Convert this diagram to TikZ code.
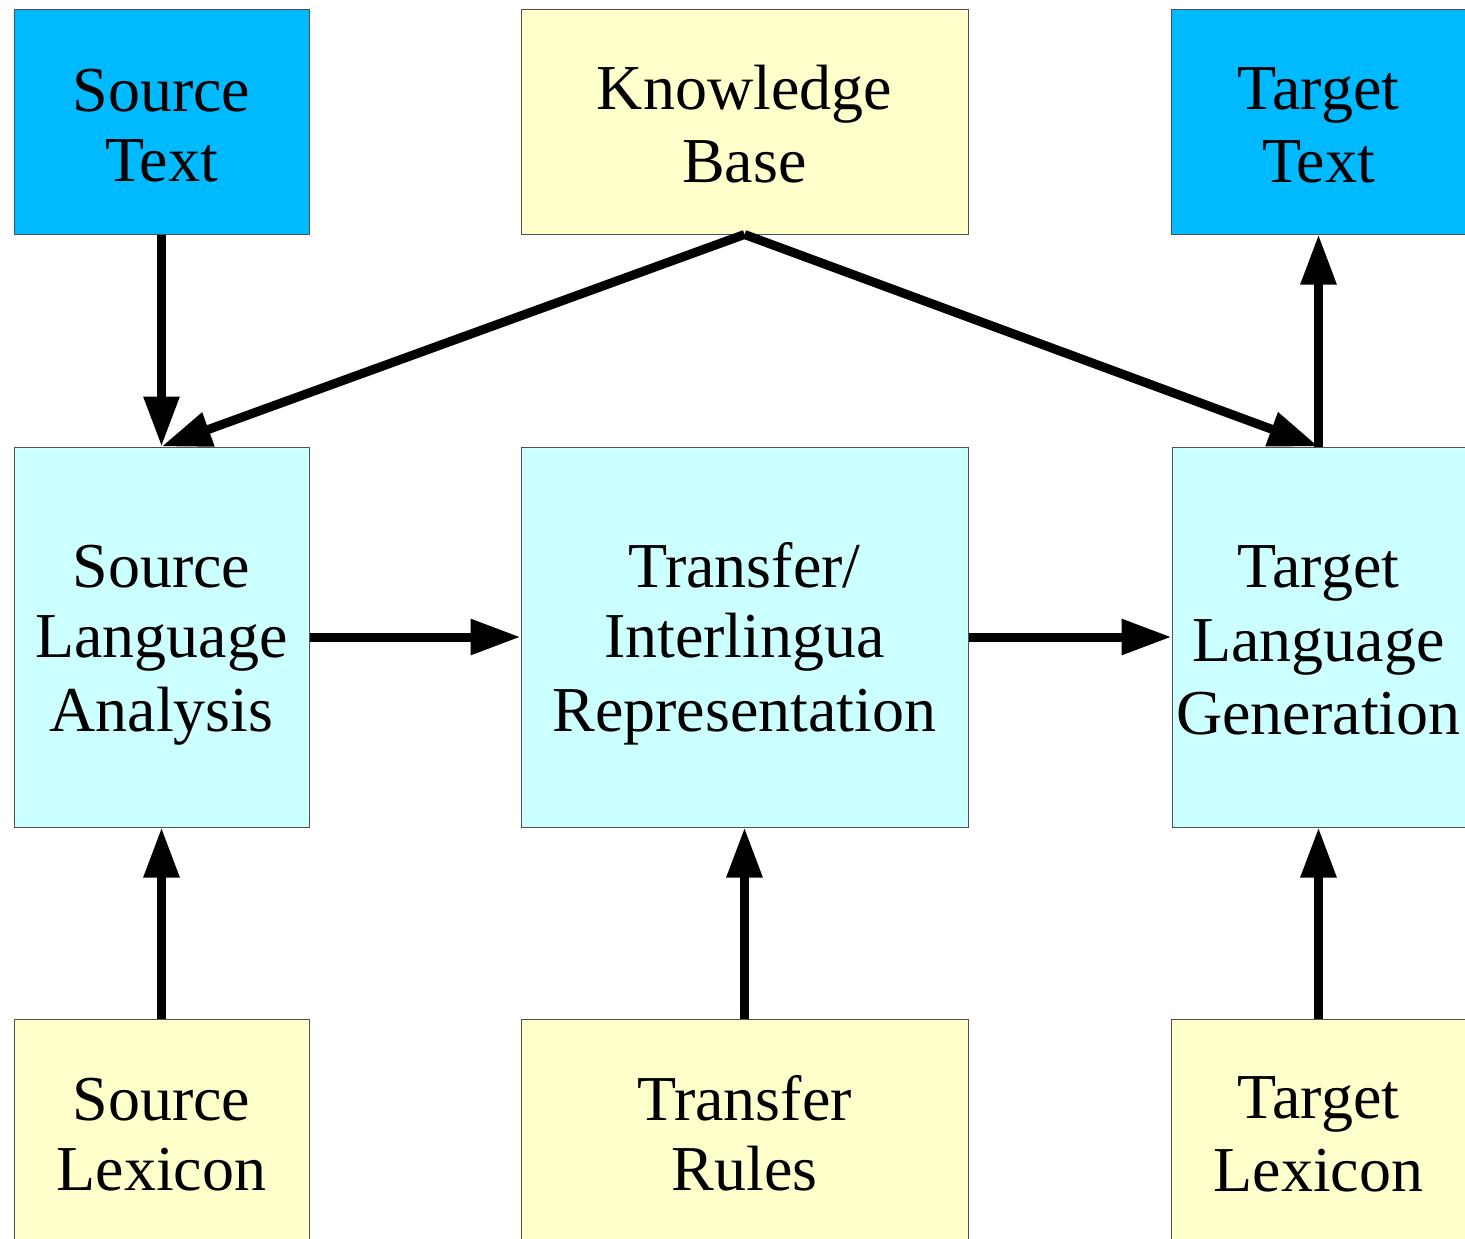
\documentclass[tikz,border=0pt]{standalone}
\usepackage{fontspec}
\setmainfont{Liberation Serif}
\usetikzlibrary{arrows.meta}
\definecolor{textblue}{RGB}{0,186,255}
\definecolor{stagecyan}{RGB}{204,255,255}
\definecolor{resyellow}{RGB}{255,255,204}
\definecolor{edgegray}{RGB}{80,80,80}
% fixed line strut so every label sits the same way in its box
\newcommand{\ls}{\vrule height 59pt depth 11pt width 0pt}
\tikzset{
  box/.style={draw=edgegray, line width=1pt, rectangle, inner sep=0pt,
    align=center, font=\fontsize{64}{70}\selectfont},
  smallbox/.style={box, minimum width=295pt, minimum height=224pt},
  widebox/.style={box, minimum width=447pt, minimum height=224pt},
  stagebox/.style={box, fill=stagecyan, minimum height=380pt},
  flow/.style={line width=9pt, -{Triangle[length=50pt,width=34pt]}}
}
\begin{document}
\begin{tikzpicture}[x=1pt,y=-1pt]
\clip (0,0) rectangle (1465,1239);
\fill[white] (0,0) rectangle (1465,1239);

% inputs, knowledge and outputs
\node[smallbox, fill=textblue] (srctext) at (161.5,122) {\ls Source\\\ls Text};
\node[widebox, fill=resyellow] (kb) at (744.5,122) {\ls Knowledge\\\ls Base};
\node[smallbox, fill=textblue] (tgttext) at (1318.5,122) {\ls Target\\\ls Text};

% processing stages
\node[stagebox, minimum width=295pt] (sla) at (161.5,637) {\ls Source\\\ls Language\\\ls Analysis};
\node[stagebox, minimum width=447pt] (tir) at (744.5,637) {\ls Transfer/\\\ls Interlingua\\\ls Representation};
\node[stagebox, minimum width=293pt] (tlg) at (1318.5,637) {\ls Target\\\ls Language\\\ls Generation};

% linguistic resources
\node[smallbox, fill=resyellow] (srclex) at (161.5,1131) {\ls Source\\\ls Lexicon};
\node[widebox, fill=resyellow] (trules) at (744.5,1131) {\ls Transfer\\\ls Rules};
\node[smallbox, fill=resyellow] (tgtlex) at (1318.5,1131) {\ls Target\\\ls Lexicon};

% connectors
\draw[flow] (srctext.south) -- (sla.north);
\draw[flow] (kb.south) -- (sla.north);
\draw[flow] (kb.south) -- (tlg.north);
\draw[flow] (tlg.north) -- (tgttext.south);
\draw[flow] (sla.east) -- (tir.west);
\draw[flow] (tir.east) -- (tlg.west);
\draw[flow] (srclex.north) -- (sla.south);
\draw[flow] (trules.north) -- (tir.south);
\draw[flow] (tgtlex.north) -- (tlg.south);
\end{tikzpicture}
\end{document}
